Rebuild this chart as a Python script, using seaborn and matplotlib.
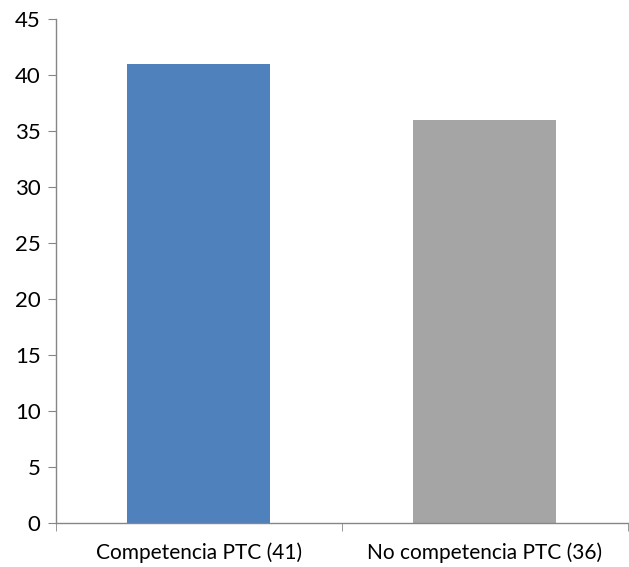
import matplotlib
matplotlib.use("Agg")
import matplotlib.pyplot as plt
import seaborn as sns
import pandas as pd
from matplotlib.ticker import FixedLocator

categories = ["Competencia PTC (41)", "No competencia PTC (36)"]
values = [41, 36]
colors = ["#4F81BD", "#A5A5A5"]
yticks = [0, 5, 10, 15, 20, 25, 30, 35, 40, 45]

df = pd.DataFrame({"cat": categories, "val": values})

sns.set_style("white")
plt.rcParams['font.family'] = ['Lato', 'DejaVu Sans']

fig = plt.figure(figsize=(6.29, 5.67), dpi=100)
ax = fig.add_axes([0.089, 0.077, 0.909, 0.889])
sns.barplot(data=df, x="cat", y="val", hue="cat", palette=colors, width=0.5,
            legend=False, ax=ax, saturation=1, linewidth=0)

ax.set_ylim(0, 45)
ax.set_xlim(-0.5, 1.5)
ax.set_yticks(yticks)
ax.set_xlabel("")
ax.set_ylabel("")
for s in ["top", "right"]:
    ax.spines[s].set_visible(False)
for s in ["left", "bottom"]:
    ax.spines[s].set_color("#868686")
    ax.spines[s].set_linewidth(1.0)

ax.tick_params(axis="y", direction="out", length=6, color="#868686", labelsize=16,
               labelcolor="#000000", pad=5, left=True)
ax.tick_params(axis="x", which="major", length=0, labelsize=15, labelcolor="#000000", pad=14)
ax.xaxis.set_minor_locator(FixedLocator([-0.5, 0.5, 1.5]))
ax.tick_params(axis="x", which="minor", direction="out", length=6, color="#868686", bottom=True)

fig.savefig("out.png", dpi=100)
